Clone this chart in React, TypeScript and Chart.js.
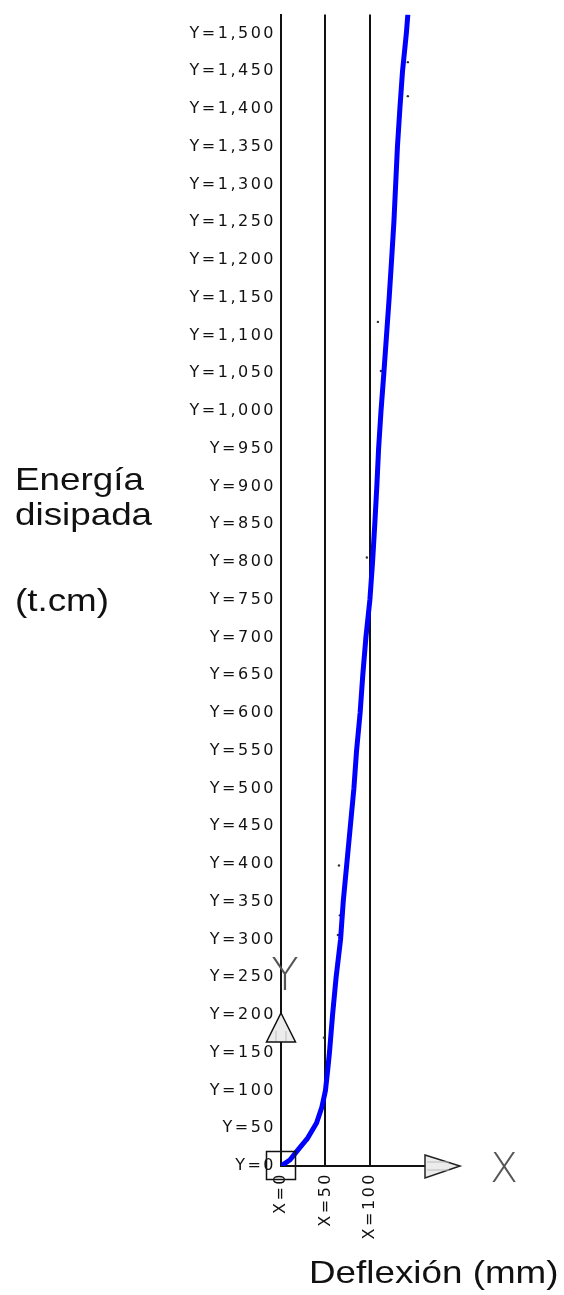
import React, { useEffect, useRef } from "react";
import { Chart, registerables } from "chart.js";

Chart.register(...registerables);

// Curve: deflection (mm) vs dissipated energy (t.cm)
const deflexionMm = [
  0, 10, 17.5, 30, 40, 46, 50, 52.5, 54.5, 58, 62, 67, 70, 74, 78, 82, 85, 89,
  92, 95.5, 100, 103, 105.5, 107.8, 109.8, 112.5, 115.7, 118.7, 121.7, 124.4,
  127, 129, 131, 133.7, 136.7, 141, 142.7,
];
const energiaTcm = [
  0, 8, 19, 37, 57, 78, 100, 127, 150, 200, 250, 300, 350, 400, 450, 500, 550,
  600, 650, 700, 750, 800, 850, 900, 950, 1000, 1050, 1100, 1150, 1200, 1250,
  1300, 1350, 1400, 1450, 1500, 1525,
];

// Small stray point marks next to the curve
const puntosX = [30, 48.3, 64, 66.3, 65.2, 96.6, 112.4, 109, 142.7, 142.7];
const puntosY = [34, 170, 306, 332, 398, 806, 1053, 1118, 1417, 1462];

const xTickValues = [0, 50, 100];
const xMin = 0;
const xMax = 162;
const yMin = 0;
const yMax = 1525;
const yStep = 50;
const yLastLabel = 1500;

const yTitleLines = ["Energía", "disipada", "", "(t.cm)"];
const xTitle = "Deflexión (mm)";

const fmt = (v: number) => Number(v).toLocaleString("en-US");

const cadPlugin = {
  id: "cadPlugin",
  beforeDraw(chart: any) {
    chart.ctx.letterSpacing = "2.5px";
  },
  afterDraw(chart: any) {
    const ctx = chart.ctx as CanvasRenderingContext2D;
    (ctx as any).letterSpacing = "0px";
    const xs = chart.scales.x;
    const ys = chart.scales.y;
    const ox = xs.getPixelForValue(0);
    const oy = ys.getPixelForValue(0);

    ctx.save();
    ctx.strokeStyle = "#111";
    ctx.lineWidth = 1.5;

    // UCS box around origin
    ctx.strokeRect(ox - 14.5, oy - 14.5, 29, 28);

    // Y arrow triangle
    ctx.beginPath();
    ctx.moveTo(ox, oy - 153);
    ctx.lineTo(ox + 14.5, oy - 124);
    ctx.lineTo(ox - 14.5, oy - 124);
    ctx.closePath();
    ctx.fillStyle = "#ececec";
    ctx.fill();
    ctx.stroke();
    ctx.strokeStyle = "#bbb";
    ctx.lineWidth = 1;
    ctx.beginPath();
    ctx.moveTo(ox - 5, oy - 135);
    ctx.lineTo(ox - 5, oy - 125);
    ctx.moveTo(ox + 5, oy - 135);
    ctx.lineTo(ox + 5, oy - 125);
    ctx.stroke();

    // X arrow triangle
    const ax = xs.right;
    ctx.strokeStyle = "#222";
    ctx.lineWidth = 1.5;
    ctx.beginPath();
    ctx.moveTo(ax, oy - 11);
    ctx.lineTo(ax + 35, oy);
    ctx.lineTo(ax, oy + 12);
    ctx.closePath();
    ctx.fillStyle = "#ececec";
    ctx.fill();
    ctx.stroke();
    ctx.strokeStyle = "#bbb";
    ctx.lineWidth = 1;
    ctx.beginPath();
    ctx.moveTo(ax + 2, oy - 4);
    ctx.lineTo(ax + 24, oy - 4);
    ctx.moveTo(ax + 2, oy + 4);
    ctx.lineTo(ax + 24, oy + 4);
    ctx.stroke();

    // UCS letters
    ctx.fillStyle = "#555";
    ctx.textBaseline = "alphabetic";
    ctx.textAlign = "left";
    ctx.font = "200 41px 'DejaVu Sans'";
    ctx.fillText("X", ax + 65, oy + 16);
    ctx.textAlign = "center";
    ctx.font = "200 45px 'DejaVu Sans'";
    ctx.fillText("Y", ox + 4, oy - 176);

    // Axis titles (slightly widened text)
    ctx.fillStyle = "#111";
    ctx.textAlign = "left";
    ctx.font = "32px 'Liberation Sans'";
    const drawWide = (t: string, x: number, y: number) => {
      ctx.save();
      ctx.translate(x, y);
      ctx.scale(1.15, 1);
      ctx.fillText(t, 0, 0);
      ctx.restore();
    };
    const baselines = [490, 525, 0, 611];
    yTitleLines.forEach((t, i) => {
      if (t) drawWide(t, 15, baselines[i]);
    });
    drawWide(xTitle, 309, 1283);
    ctx.restore();
  },
};

export default function App() {
  const ref = useRef<HTMLCanvasElement | null>(null);

  useEffect(() => {
    if (!ref.current) return;
    const curve = deflexionMm.map((x, i) => ({ x, y: energiaTcm[i] }));
    const puntos = puntosX.map((x, i) => ({ x, y: puntosY[i] }));
    const tickFont = { family: "'DejaVu Sans'", size: 16 };
    const chart = new Chart(ref.current, {
      type: "line",
      data: {
        datasets: [
          {
            label: "Energía disipada",
            data: curve,
            borderColor: "#0000ff",
            backgroundColor: "#0000ff",
            borderWidth: 5,
            pointRadius: 0,
            tension: 0,
            fill: false,
          },
          {
            type: "scatter",
            label: "puntos",
            data: puntos,
            pointRadius: 1.2,
            pointBackgroundColor: "#333",
            pointBorderWidth: 0,
            showLine: false,
          } as any,
        ],
      },
      options: {
        animation: false,
        responsive: false,
        maintainAspectRatio: false,
        layout: { padding: { left: 0, top: 12, right: 139, bottom: 0 } },
        plugins: {
          legend: { display: false },
          tooltip: { enabled: false },
          title: { display: false },
        },
        scales: {
          x: {
            type: "linear",
            min: xMin,
            max: xMax,
            afterBuildTicks: (s: any) => {
              s.ticks = xTickValues.map((v) => ({ value: v }));
            },
            afterFit: (s: any) => {
              s.height = 129;
            },
            grid: {
              display: true,
              drawOnChartArea: true,
              drawTicks: false,
              color: "#111",
              lineWidth: 2,
            },
            border: { display: true, color: "#111", width: 2 },
            ticks: {
              autoSkip: false,
              minRotation: 90,
              maxRotation: 90,
              padding: 6,
              color: "#111",
              font: tickFont,
              callback: (v: any) => "X=" + fmt(v),
            },
          },
          y: {
            type: "linear",
            min: yMin,
            max: yMax,
            afterFit: (s: any) => {
              s.width = 281;
            },
            grid: { display: false, drawTicks: false },
            border: { display: true, color: "#111", width: 2 },
            ticks: {
              stepSize: yStep,
              includeBounds: false,
              autoSkip: false,
              padding: 5,
              color: "#111",
              font: tickFont,
              callback: (v: any) => (v > yLastLabel ? "" : "Y=" + fmt(v)),
            },
          },
        },
      },
      plugins: [cadPlugin],
    });
    return () => chart.destroy();
  }, []);

  return (
    <div style={{ position: "absolute", left: 0, top: 0, width: 564, height: 1295, background: "#fff" }}>
      <canvas ref={ref} width={564} height={1295} style={{ display: "block" }} />
    </div>
  );
}
